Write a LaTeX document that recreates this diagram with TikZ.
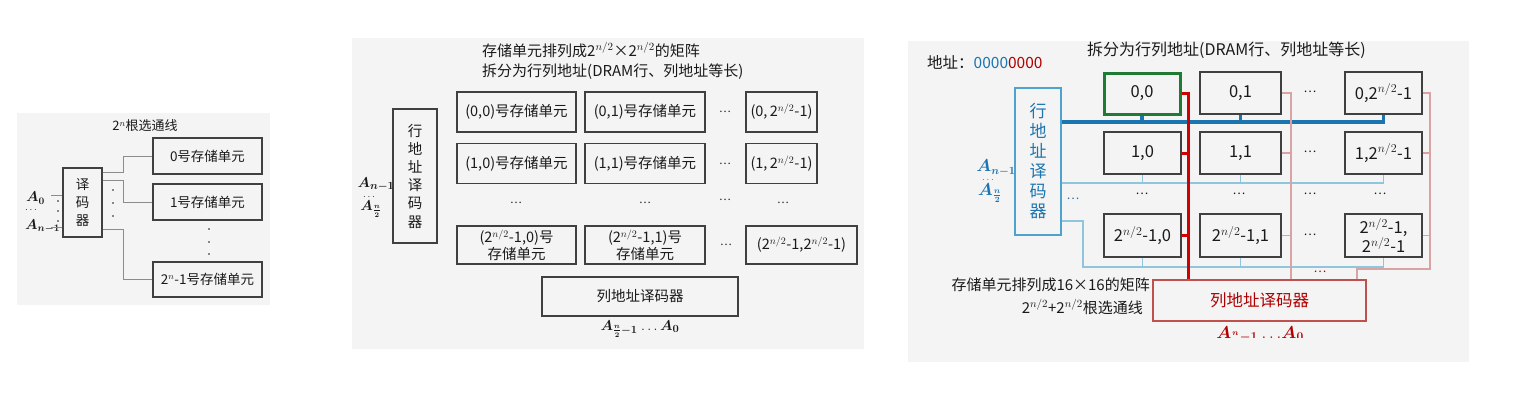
\documentclass[tikz,border=0pt]{standalone}
\usepackage{fontspec}
\usepackage{amsmath}
\usetikzlibrary{calc}
\setmainfont{Noto Sans CJK SC}
\definecolor{bg}{HTML}{F4F4F4}
\definecolor{boxc}{HTML}{404040}
\definecolor{glc}{HTML}{8C8C8C}
\definecolor{bluek}{HTML}{1B75B0}
\definecolor{bluel}{HTML}{8FC6DE}
\definecolor{blueb}{HTML}{4DA3CB}
\definecolor{redk}{HTML}{D10000}
\definecolor{redl}{HTML}{D9A3A3}
\definecolor{redb}{HTML}{C0504D}
\definecolor{redt}{HTML}{B00000}
\definecolor{greenk}{HTML}{1F7A33}
\definecolor{txt}{HTML}{1A1A1A}
\newcommand\fsz[1]{\fontsize{#1}{#1}\selectfont}
\newcommand\fszl[2]{\fontsize{#1}{#2}\selectfont}
\newcommand\pnh{2$^{n/2}$}
\newcommand\bA[1]{$\boldsymbol{A_{#1}}$}
\newcommand\mdots{$\ldots$}
\begin{document}
\begin{tikzpicture}[x=1pt,y=-1pt,
  box/.style={draw=boxc, line width=1.2pt, fill=bg, inner sep=0pt, align=center, text=txt},
  gl/.style={draw=glc, line width=0.9pt},
  lbl/.style={inner sep=0pt, text=txt},
  bth/.style={draw=bluek, line width=3.2pt},
  btn/.style={draw=bluel, line width=1.1pt},
  rth/.style={draw=redk, line width=3pt},
  rtn/.style={draw=redl, line width=1.1pt},
  dotc/.style={fill=txt}]
\useasboundingbox (0,0) rectangle (1523,407);

% ================= panel 1 =================
\fill[bg] (17,113) rectangle (270,305);
\node[lbl, font=\fsz{13}] (t1) at (145,126) {2$^{n}$根选通线};
\node[box, minimum width=39pt, minimum height=69pt, font=\fszl{13.5}{18}] (dec1) at (82.5,202.5) {译\\码\\器};
\node[box, minimum width=109pt, minimum height=36pt, font=\fsz{13.5}] (u0) at (207.5,156) {0号存储单元};
\node[box, minimum width=109pt, minimum height=36pt, font=\fsz{13.5}] (u1) at (207.5,202) {1号存储单元};
\node[box, minimum width=109pt, minimum height=35pt, font=\fsz{13.5}] (un) at (207.5,279.5) {2$^{n}$-1号存储单元};
\draw[gl] ($(dec1.north east)+(0,5)$) -- ++(21,0) |- (u0.west);
\draw[gl] ($(dec1.north east)+(0,13)$) -- ++(21,0) |- (u1.west);
\draw[gl] ($(dec1.south east)+(0,-8)$) -- ++(21,0) |- (un.west);
\node[lbl, font=\fsz{14}, anchor=west] (a10) at (26,198) {\bA{0}};
\node[lbl, font=\fsz{10}] (a1d) at (31,210) {\mdots};
\node[lbl, font=\fsz{14}, anchor=west] (a1n) at (25,226) {\bA{n-1}};
\draw[gl] ($(dec1.north west)+(0,28)$) -- ++(-11,0);
\draw[gl] ($(dec1.south west)+(0,-10)$) -- ++(-11,0);
\foreach \y in {201,211,221} \fill[dotc] (58,\y) circle (0.9pt);
\foreach \y in {190,203,216} \fill[dotc] (113,\y) circle (0.9pt);
\foreach \y in {229,242,254} \fill[dotc] (209,\y) circle (0.9pt);

% ================= panel 2 =================
\fill[bg] (352,38) rectangle (864,349);
\node[lbl, font=\fsz{15}, anchor=west] (t2a) at (482,50) {存储单元排列成\pnh×\pnh 的矩阵};
\node[lbl, font=\fsz{15}, anchor=west] (t2b) at (482,72) {拆分为行列地址(DRAM行、列地址等长)};
\node[box, minimum width=44pt, minimum height=134pt, font=\fszl{14.5}{18.2}] (dec2) at (415,176) {行\\地\\址\\译\\码\\器};
\node[lbl, font=\fsz{15}] (a2n) at (376,184) {\bA{n-1}};
\node[lbl, font=\fsz{10}] (a2d) at (369,196.5) {\mdots};
\node[lbl, font=\fsz{15}] (a2h) at (371,209) {\bA{\frac{n}{2}}};
\tikzset{c2/.style={box, minimum height=40pt, font=\fszl{14.5}{17}}}
\node[c2, minimum width=119pt] (p00) at (516.5,112) {(0,0)号存储单元};
\node[c2, minimum width=120pt] (p01) at (645,112) {(0,1)号存储单元};
\node[c2, minimum width=71pt] (p02) at (781.5,112) {(0,\,\pnh-1)};
\node[c2, minimum width=119pt] (p10) at (516.5,163.5) {(1,0)号存储单元};
\node[c2, minimum width=120pt] (p11) at (645,163.5) {(1,1)号存储单元};
\node[c2, minimum width=71pt] (p12) at (781.5,163.5) {(1,\,\pnh-1)};
\node[c2, minimum width=119pt, minimum height=38pt] (p20) at (516.5,245) {(\pnh-1,0)号\\存储单元};
\node[c2, minimum width=120pt, minimum height=38pt] (p21) at (645,245) {(\pnh-1,1)号\\存储单元};
\node[c2, minimum width=111pt, minimum height=38pt] (p22) at (801.5,245) {(\pnh-1,\pnh-1)};
\foreach \x/\y in {725/112, 725/163.5, 726/245, 516/203, 645/203, 725/200, 783/203}
  \node[lbl, font=\fsz{11}] at (\x,\y) {…};
\node[box, minimum width=196pt, minimum height=39pt, font=\fsz{14.5}] (cd2) at (640,296.5) {列地址译码器};
\node[lbl, font=\fsz{15}] (a2c) at (640,329) {\bA{\frac{n}{2}-1} \mdots\,\bA{0}};

% ================= panel 3 =================
\fill[bg] (908,41) rectangle (1469,362);
\node[lbl, font=\fsz{15.5}, anchor=west] (addr) at (927,62) {地址：\textcolor{bluek}{0000}\textcolor{redt}{0000}};
\node[lbl, font=\fsz{16}, anchor=west] (t3) at (1087,50) {拆分为行列地址(DRAM行、列地址等长)};
\node[box, draw=blueb, text=bluek, minimum width=46pt, minimum height=147pt, font=\fszl{17}{20}] (dec3) at (1038,161.5) {行\\地\\址\\译\\码\\器};
\node[lbl, text=bluek, font=\fsz{16}] (a3n) at (996,168) {\bA{n-1}};
\node[lbl, text=bluek, font=\fsz{10}] (a3d) at (988,180) {\mdots};
\node[lbl, text=bluek, font=\fsz{16}] (a3h) at (990,193) {\bA{\frac{n}{2}}};
\node[lbl, text=bluek, font=\fsz{12}] (bdots) at (1073,199) {…};
\tikzset{c3/.style={box, minimum height=42pt, font=\fszl{16.5}{19}}}
\node[c3, minimum width=77pt, minimum height=42pt] (q10) at (1142.5,153) {1,0};
\node[c3, minimum width=81pt] (q01) at (1240.5,93) {0,1};
\node[c3, minimum width=77pt] (q02) at (1383.5,93) {0,\pnh-1};
\node[c3, minimum width=81pt] (q11) at (1240.5,153) {1,1};
\node[c3, minimum width=77pt] (q12) at (1383.5,153) {1,\pnh-1};
\node[c3, minimum width=77pt, minimum height=43pt] (q20) at (1142.5,235.5) {\pnh-1,0};
\node[c3, minimum width=81pt, minimum height=43pt] (q21) at (1240.5,235.5) {\pnh-1,1};
\node[c3, minimum width=77pt, minimum height=43pt] (q22) at (1383.5,235.5) {\pnh-1,\\\pnh-1};
\node[c3, draw=greenk, line width=3pt, minimum width=76pt, minimum height=41pt] (q00) at (1142,93.5) {0,0};
\foreach \x/\y in {1310/92, 1310/152, 1310/235, 1142/194, 1239/194, 1310/194, 1380/194}
  \node[lbl, font=\fsz{12}] at (\x,\y) {…};
\node[box, draw=redb, text=redt, minimum width=213pt, minimum height=41pt, font=\fsz{16.5}] (cd3) at (1259.5,300.5) {列地址译码器};
% blue row lines
\draw[btn] (dec3.east |- 0,183) -- (q12.south |- 0,183) -- (q12.south);
\draw[btn] (q10.south) -- (q10.south |- 0,183);
\draw[btn] (q11.south) -- (q11.south |- 0,183);
\draw[btn] (dec3.east |- 0,221) -- (1083,221) -- (1083,267) -- (q22.south |- 0,267) -- (q22.south);
\draw[btn] (q20.south) -- (q20.south |- 0,267);
\draw[btn] (q21.south) -- (q21.south |- 0,267);
\draw[bth] (dec3.east |- 0,122) -- (q02.south |- 0,122) -- (q02.south);
\draw[bth] (q00.south) -- (q00.south |- 0,122);
\draw[bth] (q01.south) -- (q01.south |- 0,122);
% red column lines
\draw[rtn] (q01.east) -| (cd3.north -| 1291,0);
\draw[rtn] (q11.east) -- (q11.east -| 1291,0);
\draw[rtn] (q21.east) -- (q21.east -| 1291,0);
\draw[rtn] (q02.east) -| (1430,269) -| (cd3.north -| 1357,0);
\draw[rtn] (q12.east) -- (q12.east -| 1430,0);
\draw[rtn] (q22.east) -- (q22.east -| 1430,0);
\draw[rth] (q00.east) -| (cd3.north -| 1188,0);
\draw[rth] (q10.east) -- (q10.east -| 1188,0);
\draw[rth] (q20.east) -- (q20.east -| 1188,0);
\node[lbl, text=redt, font=\fsz{12}] (rdots) at (1320,272) {…};
\begin{scope}
\clip (1150,322) rectangle (1370,337);
\node[lbl, text=redt, font=\fsz{17}] (a3c) at (1260,336) {\bA{\frac{n}{2}-1} \mdots\bA{0}};
\end{scope}
\node[lbl, font=\fsz{15}, anchor=east] (b3a) at (1150,285) {存储单元排列成16×16的矩阵};
\node[lbl, font=\fsz{15}, anchor=east] (b3b) at (1143,307) {\pnh+\pnh 根选通线};
\end{tikzpicture}
\end{document}
